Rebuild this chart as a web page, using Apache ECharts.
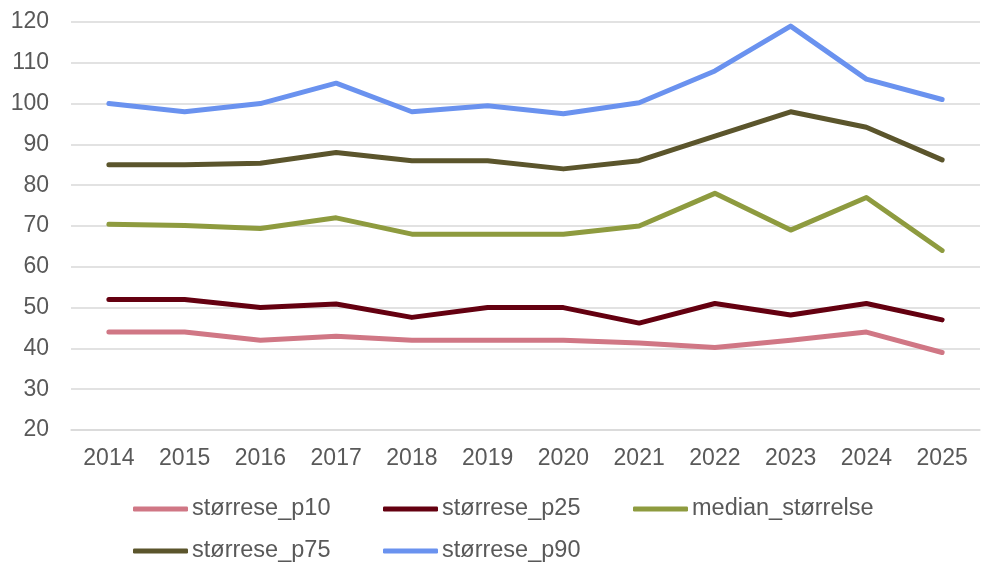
<!DOCTYPE html>
<html>
<head>
<meta charset="utf-8">
<script src="https://cdn.jsdelivr.net/npm/echarts@6/dist/echarts.min.js"></script>
<style>
  html, body { margin: 0; padding: 0; background: #fff; }
  #chart { width: 982px; height: 565px; }
</style>
</head>
<body>
<div id="chart"></div>
<script>
// Years on the category axis
const years = ['2014', '2015', '2016', '2017', '2018', '2019', '2020', '2021', '2022', '2023', '2024', '2025'];

// Size percentiles per year
const p10 = [44, 44, 42, 43, 42, 42, 42, 41.3, 40.2, 42, 44, 39];
const p25 = [52, 52, 50, 50.9, 47.6, 50, 50, 46.2, 51, 48.2, 51, 47];
const median = [70.4, 70.1, 69.4, 72, 68, 68, 68, 70, 78, 69, 77, 64];
const p75 = [85, 85, 85.4, 88, 86, 86, 84, 86, 92, 98, 94.2, 86.2];
const p90 = [100, 98, 100, 105, 98, 99.5, 97.5, 100.2, 108, 119, 106, 101];

const seriesNames = ['størrese_p10', 'størrese_p25', 'median_størrelse', 'størrese_p75', 'størrese_p90'];
const seriesData = [p10, p25, median, p75, p90];
const colors = ['#D07785', '#640010', '#8E9B3F', '#5B552C', '#6A92EF'];

const textColor = '#595959';
const fontFamily = "'Liberation Sans', Arial, sans-serif";

// Legend slots: three items on the first row, two on the second
const legendSlots = [
  { left: 133, top: 497 },
  { left: 383, top: 497 },
  { left: 633, top: 497 },
  { left: 133, top: 539 },
  { left: 383, top: 539 }
];

const chart = echarts.init(document.getElementById('chart'), null, { renderer: 'canvas' });

chart.setOption({
  animation: false,
  backgroundColor: '#ffffff',
  color: colors,
  grid: { left: 71, right: 2, top: 22, bottom: 135, containLabel: false },
  xAxis: {
    type: 'category',
    data: years,
    boundaryGap: true,
    axisLine: { show: true, lineStyle: { color: '#D9D9D9', width: 1.5 } },
    axisTick: { show: false },
    axisLabel: {
      color: textColor,
      fontSize: 23,
      fontFamily: fontFamily,
      margin: 17
    }
  },
  yAxis: {
    type: 'value',
    min: 20,
    max: 120,
    interval: 10,
    axisLine: { show: false },
    axisTick: { show: false },
    splitLine: { lineStyle: { color: '#D9D9D9', width: 1.5 } },
    axisLabel: {
      color: textColor,
      fontSize: 23,
      fontFamily: fontFamily,
      margin: 22
    }
  },
  legend: seriesNames.map((name, i) => ({
    data: [name],
    left: legendSlots[i].left,
    top: legendSlots[i].top,
    icon: 'roundRect',
    itemWidth: 55,
    itemHeight: 5,
    itemGap: 0,
    padding: 0,
    textStyle: {
      color: textColor,
      fontSize: 23.5,
      fontFamily: fontFamily,
      padding: [0, 0, 0, -1]
    }
  })),
  series: seriesNames.map((name, i) => ({
    name: name,
    type: 'line',
    data: seriesData[i],
    symbol: 'none',
    lineStyle: { width: 5, color: colors[i], cap: 'round', join: 'round' },
    itemStyle: { color: colors[i] }
  }))
});
</script>
</body>
</html>
